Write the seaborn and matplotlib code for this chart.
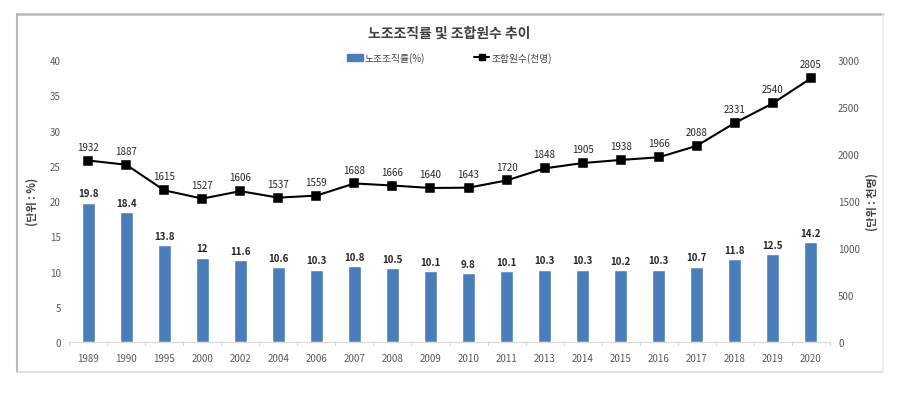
import numpy as np
import pandas as pd
import matplotlib
matplotlib.use("Agg")
import matplotlib.pyplot as plt
import seaborn as sns
from matplotlib.patches import Patch
from matplotlib.lines import Line2D

# -------------------------
# data
# -------------------------
years = ["1989", "1990", "1995", "2000", "2002", "2004", "2006", "2007", "2008", "2009",
         "2010", "2011", "2013", "2014", "2015", "2016", "2017", "2018", "2019", "2020"]
org_rate = [19.8, 18.4, 13.8, 12, 11.6, 10.6, 10.3, 10.8, 10.5, 10.1,
            9.8, 10.1, 10.3, 10.3, 10.2, 10.3, 10.7, 11.8, 12.5, 14.2]
members = [1932, 1887, 1615, 1527, 1606, 1537, 1559, 1688, 1666, 1640,
           1643, 1720, 1848, 1905, 1938, 1966, 2088, 2331, 2540, 2805]

df = pd.DataFrame({"year": years, "rate": org_rate, "members": members})

sns.set_style("white")
plt.rcParams["font.family"] = ["Noto Sans CJK KR", "DejaVu Sans"]

bar_color = "#4a7ebb"
tick_color = "#595959"

fig = plt.figure(figsize=(8.99, 4.10), dpi=100)
ax = fig.add_axes([0.077, 0.163, 0.846, 0.688])

# -------------------------
# bars (left axis)
# -------------------------
sns.barplot(data=df, x="year", y="rate", color=bar_color, saturation=1,
            width=0.33, ax=ax)
ax.set_ylim(0, 40)
ax.set_xlim(-0.5, 19.5)
ax.set_yticks(range(0, 41, 5))
ax.set_xlabel("")
ax.set_ylabel("(단위 : %)", fontsize=8, color="#404040", fontweight="bold", labelpad=8)
for i, v in enumerate(org_rate):
    ax.text(i, v + 0.6, f"{v:g}", ha="center", va="bottom", fontsize=7,
            fontweight="bold", color="#262626")

# -------------------------
# line (right axis)
# -------------------------
ax2 = ax.twinx()
sns.pointplot(data=df, x="year", y="members", color="black", markers="s",
              linestyles="-", markersize=6, linewidth=1.5, ax=ax2)
ax2.set_ylim(0, 3000)
ax2.set_xlim(-0.5, 19.5)
ax2.set_yticks(range(0, 3001, 500))
ax2.set_ylabel("(단위 : 천명)", fontsize=8, color="#404040", fontweight="bold",
               rotation=90, labelpad=4)
ax2.set_xlabel("")
for i, v in enumerate(members):
    ax2.text(i, v + 95, str(v), ha="center", va="bottom", fontsize=7, color="#262626")

for a in (ax, ax2):
    for s in a.spines.values():
        s.set_visible(False)
    a.tick_params(axis="y", length=0, labelsize=7, colors=tick_color, pad=6)
ax.spines["bottom"].set_visible(True)
ax.spines["bottom"].set_color("#d9d9d9")
ax.tick_params(axis="x", length=0, labelsize=7, colors=tick_color, pad=8)
# small category separators on the bottom axis, Excel style
for k in np.arange(-0.5, 20, 1):
    ax.plot([k, k], [0, -0.35], color="#d9d9d9", lw=0.8, clip_on=False)

# -------------------------
# title, legend, frame
# -------------------------
fig.text(0.5, 0.918, "노조조직률 및 조합원수 추이", ha="center", va="center",
         fontsize=10, color="#404040", fontweight="bold")
handles = [Patch(color=bar_color, label="노조조직률(%)"),
           Line2D([0], [0], color="black", marker="s", markersize=5, lw=1.5,
                  label="조합원수(천명)")]
fig.legend(handles=handles, loc="center", bbox_to_anchor=(0.5, 0.858), ncol=2,
           frameon=False, fontsize=7, handlelength=1.6, handletextpad=0.2,
           columnspacing=5, labelcolor="#404040")

# outer frame: darker top/left, faint right/bottom
x0, x1 = 17 / 899, 883 / 899
y0, y1 = 1 - 373 / 410, 1 - 15 / 410
fig.add_artist(Line2D([x0, x1], [y1, y1], color="#b8b8b8", lw=1.8))
fig.add_artist(Line2D([x0, x0], [y0, y1], color="#b8b8b8", lw=1.5))
fig.add_artist(Line2D([x1, x1], [y0, y1], color="#ececec", lw=1.2))
fig.add_artist(Line2D([x0, x1], [y0, y0], color="#dcdcdc", lw=1.2))

fig.savefig("out.png", dpi=100)
